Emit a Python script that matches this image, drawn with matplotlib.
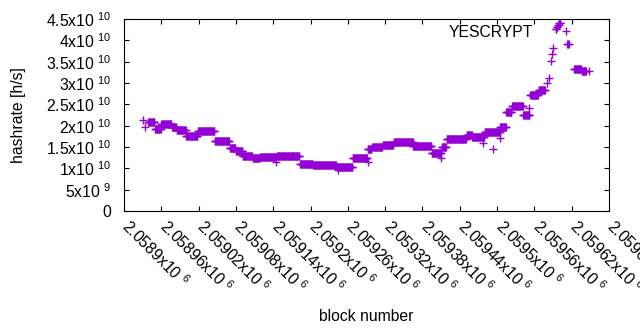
import numpy as np
import matplotlib
matplotlib.use("Agg")
from matplotlib import pyplot as plt
from matplotlib.transforms import ScaledTranslation

# block offsets from 2058900, hashrate levels in units of 1e10 h/s
BASE = 2058900
seg_start = [39, 50, 60, 77, 85, 100, 119, 146, 170, 180, 191, 207, 219, 246,
             283, 304, 342, 368, 392, 399, 416, 434, 465, 495, 511, 519, 551,
             560, 580, 605, 615, 624, 642, 653, 667, 694, 696, 698, 700, 713,
             724, 736]
seg_end = [50, 60, 77, 85, 100, 119, 146, 170, 180, 191, 207, 219, 246, 283,
           304, 342, 368, 392, 399, 416, 434, 465, 495, 511, 519, 551, 560,
           580, 605, 615, 624, 642, 653, 667, 678, 696, 698, 700, 703, 716,
           736, 744]
seg_level = [2.09, 1.92, 2.03, 1.96, 1.90, 1.76, 1.88, 1.64, 1.48, 1.40, 1.30,
             1.24, 1.27, 1.29, 1.11, 1.07, 1.04, 1.24, 1.45, 1.51, 1.55, 1.61,
             1.52, 1.35, 1.50, 1.68, 1.78, 1.73, 1.86, 1.98, 2.33, 2.45, 2.25,
             2.73, 2.84, 4.27, 4.32, 4.36, 4.40, 3.91, 3.33, 3.28]

# single scattered points
extra_block = [30, 33, 245, 344, 392, 510, 577, 594, 605, 651, 680, 683, 687,
               688, 690, 748]
extra_level = [2.13, 1.97, 1.16, 0.96, 1.16, 1.24, 1.59, 1.45, 1.71, 2.41,
               3.00, 3.12, 3.52, 3.68, 3.82, 3.27]

xtick_vals = [2.0589, 2.05896, 2.05902, 2.05908, 2.05914, 2.0592, 2.05926,
              2.05932, 2.05938, 2.05944, 2.0595, 2.05956, 2.05962, 2.05968]
ytick_vals = [0, 5e9, 1e10, 1.5e10, 2e10, 2.5e10, 3e10, 3.5e10, 4e10, 4.5e10]
ytick_text = ['0', '5x10 $^{9}$', '1x10 $^{10}$', '1.5x10 $^{10}$',
              '2x10 $^{10}$', '2.5x10 $^{10}$', '3x10 $^{10}$',
              '3.5x10 $^{10}$', '4x10 $^{10}$', '4.5x10 $^{10}$']


def main():
    plt.rcParams['font.family'] = ['Liberation Sans', 'DejaVu Sans']
    plt.rcParams['mathtext.fontset'] = 'custom'
    plt.rcParams['mathtext.rm'] = 'Liberation Sans'
    plt.rcParams['mathtext.default'] = 'regular'
    fs = 11.3

    xs, ys = [], []
    for s, e, v in zip(seg_start, seg_end, seg_level):
        b = np.arange(s, e)
        xs.append(BASE + b)
        ys.append(np.full(len(b), v * 1e10))
    xs.append(BASE + np.array(extra_block))
    ys.append(np.array(extra_level) * 1e10)
    x = np.concatenate(xs)
    y = np.concatenate(ys)

    color = '#9400d3'
    fig = plt.figure(figsize=(6.4, 3.3), dpi=100)
    ax = fig.add_axes([124 / 640, 1 - 211 / 330, 485 / 640, 192 / 330])
    ax.plot(x, y, linestyle='none', marker='+', markersize=5.2,
            markeredgewidth=1.0, color=color, label='YESCRYPT')

    ax.set_xlim(2058900, 2059680)
    ax.set_ylim(0, 4.5e10)

    # x tick labels drawn by hand so they can sit right of the tick, gnuplot style
    xt = [v * 1e6 for v in xtick_vals]
    ax.set_xticks(xt)
    ax.set_xticklabels([])
    offset = ScaledTranslation(0.08, -0.056, fig.dpi_scale_trans)
    for pos, v in zip(xt, xtick_vals):
        ax.text(pos, 0, '%gx10 $^{6}$' % v, transform=ax.get_xaxis_transform() + offset,
                rotation=-45, ha='left', va='top', rotation_mode='anchor',
                fontsize=fs, clip_on=False)

    ax.set_yticks(ytick_vals)
    ax.set_yticklabels(ytick_text, fontsize=fs)

    ax.tick_params(direction='in', length=3.5, width=0.8, top=True,
                   right=True, pad=4)
    ax.tick_params(axis='y', pad=9)
    for sp in ax.spines.values():
        sp.set_linewidth(0.8)

    ax.set_xlabel('block number', fontsize=fs)
    ax.xaxis.set_label_coords(0.5, -0.51)
    ax.set_ylabel('hashrate [h/s]', fontsize=fs)
    ax.yaxis.set_label_coords(-0.203, 0.5)

    ax.legend(loc='center right', bbox_to_anchor=(0.944, 0.93),
              frameon=False, markerfirst=False, fontsize=fs,
              handlelength=2.0, handletextpad=1.08, borderpad=0,
              borderaxespad=0)

    plt.savefig('out.png', dpi=100)


if __name__ == '__main__':
    main()
